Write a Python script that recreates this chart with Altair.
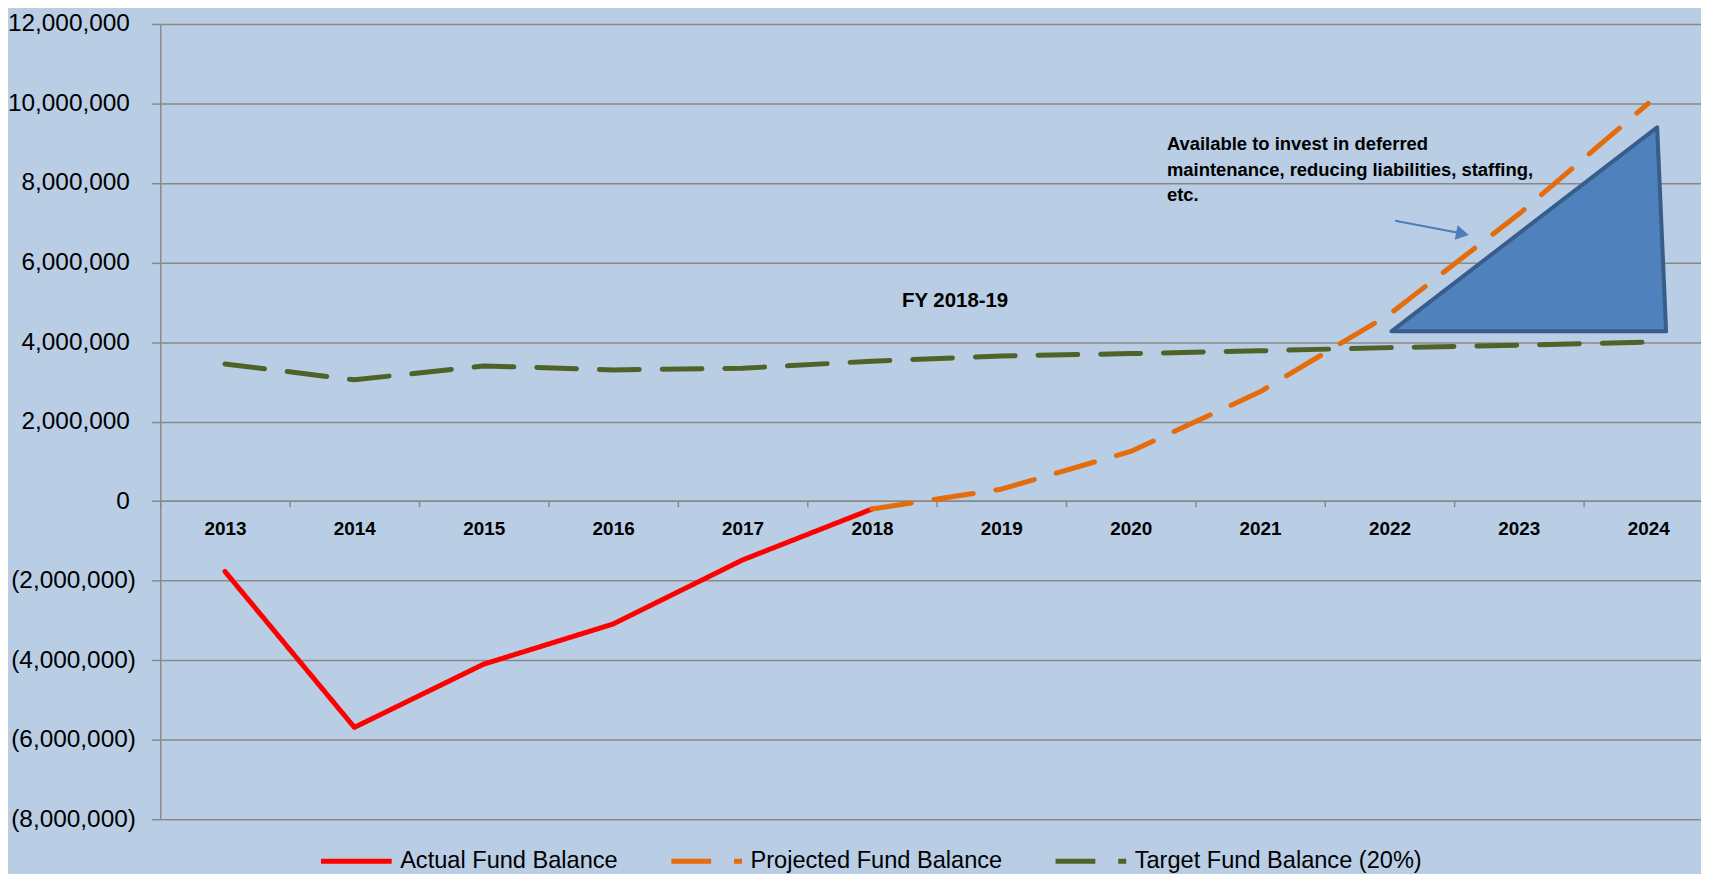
import altair as alt
import pandas as pd

# ---------------- data ----------------
years = [str(y) for y in range(2013, 2025)]

actual_years = years[:6]
actual_vals = [-1770000, -5690000, -4100000, -3090000, -1480000, -200000]

proj_years = years[5:]
proj_vals = [-200000, 300000, 1250000, 2750000, 4700000, 7220000, 10000000]

target_years = years
target_vals = [3450000, 3050000, 3400000, 3300000, 3340000, 3520000,
               3650000, 3710000, 3780000, 3860000, 3920000, 4000000]

series_names = ["Actual Fund Balance", "Projected Fund Balance", "Target Fund Balance (20%)"]
series_colors = ["#FF0000", "#E46C0A", "#4F6228"]
series_dash = [[1, 0], [40, 23], [40, 23]]

y_ticks = [-8000000, -6000000, -4000000, -2000000, 0, 2000000,
           4000000, 6000000, 8000000, 10000000, 12000000]

# shaded triangle (year units, dollars)
tri_x = [2022.015, 2024.069, 2024.138]
tri_top = [4270000, 9400000, 4270000]
tri_base = [4270000, 4270000, 4270000]

# annotation
note_lines = ["Available to invest in deferred",
              "maintenance, reducing liabilities, staffing,",
              "etc."]
note_x = [2020.28, 2020.28, 2020.28]
note_y = [8970000, 8330000, 7690000]

fy_text = ["FY 2018-19"]
fy_x = [2018.643]
fy_y = [5030000]

arrow_x = [2022.044]
arrow_x2 = [2022.531]
arrow_y = [7053000]
arrow_y2 = [6748000]
head_x = [2022.564]
head_y = [6723000]

# ---------------- tables ----------------
rows = []
for y, v in zip(actual_years, actual_vals):
    rows.append({"series": series_names[0], "year": y, "value": v})
for y, v in zip(proj_years, proj_vals):
    rows.append({"series": series_names[1], "year": y, "value": v})
for y, v in zip(target_years, target_vals):
    rows.append({"series": series_names[2], "year": y, "value": v})
lines_df = pd.DataFrame(rows)

tri_df = pd.DataFrame({"x": tri_x, "top": tri_top, "base": tri_base})
note_df = pd.DataFrame({"x": note_x, "y": note_y, "t": note_lines})
fy_df = pd.DataFrame({"x": fy_x, "y": fy_y, "t": fy_text})
arrow_df = pd.DataFrame({"x": arrow_x, "x2": arrow_x2, "y": arrow_y, "y2": arrow_y2})
head_df = pd.DataFrame({"x": head_x, "y": head_y})

FONT = "Liberation Sans"
GRID = "#898989"

yscale = alt.Scale(domain=[-8000000, 12000000], nice=False, zero=False)
qx_scale = alt.Scale(domain=[2012.5, 2024.5], nice=False, zero=False)

label_expr = "datum.value < 0 ? '(' + format(-datum.value, ',') + ')' : format(datum.value, ',')"

legend = alt.Legend(
    title=None, orient="none", legendX=159, legendY=803,
    direction="horizontal", columns=3,
    symbolType="stroke", symbolSize=5041, symbolStrokeWidth=5,
    labelFontSize=23.7, labelFont=FONT, labelColor="black",
    columnPadding=43, labelOffset=6, labelLimit=400,
)

lines = alt.Chart(lines_df).mark_line(strokeWidth=5, strokeCap="round", strokeJoin="round").encode(
    x=alt.X("year:O",
            scale=alt.Scale(type="band", domain=years, paddingInner=0, paddingOuter=0),
            axis=alt.Axis(title=None, offset=-320, tickBand="extent", labelAngle=0,
                          labelFont=FONT, labelFontWeight="bold", labelFontSize=19,
                          labelColor="black", labelPadding=13, tickSize=6,
                          domainColor=GRID, tickColor=GRID, domainWidth=1.5, tickWidth=1.5,
                          grid=False)),
    y=alt.Y("value:Q", scale=yscale,
            axis=alt.Axis(values=y_ticks, title=None, labelExpr=label_expr,
                          labelFont=FONT, labelFontSize=24.5, labelColor="black",
                          tickSize=9,
                          labelPadding={"condition": {"test": "datum.value < 0", "value": 16},
                                        "value": 22},
                          grid=True, gridColor=GRID,
                          gridWidth=1.5, domainColor=GRID, domainWidth=1.5,
                          tickColor=GRID, tickWidth=1.5)),
    color=alt.Color("series:N", scale=alt.Scale(domain=series_names, range=series_colors), legend=legend),
    strokeDash=alt.StrokeDash("series:N", scale=alt.Scale(domain=series_names, range=series_dash), legend=legend),
    order=alt.Order("year:O"),
)

tri = alt.Chart(tri_df).mark_area(color="#4F81BD", opacity=1, stroke="#385D8A",
                                   strokeWidth=4, strokeJoin="round").encode(
    x=alt.X("x:Q", scale=qx_scale, axis=None),
    y=alt.Y("top:Q", scale=yscale),
    y2="base:Q",
)

arrow = alt.Chart(arrow_df).mark_rule(color="#4A7EBB", strokeWidth=2).encode(
    x=alt.X("x:Q", scale=qx_scale, axis=None),
    x2="x2:Q",
    y=alt.Y("y:Q", scale=yscale),
    y2="y2:Q",
)

head = alt.Chart(head_df).mark_point(shape="triangle-right", filled=True, size=220,
                                     angle=11, color="#4A7EBB", opacity=1).encode(
    x=alt.X("x:Q", scale=qx_scale, axis=None),
    y=alt.Y("y:Q", scale=yscale),
)

note = alt.Chart(note_df).mark_text(align="left", baseline="middle", font=FONT,
                                    fontWeight="bold", fontSize=18.5, color="black").encode(
    x=alt.X("x:Q", scale=qx_scale, axis=None),
    y=alt.Y("y:Q", scale=yscale),
    text="t:N",
)

fy = alt.Chart(fy_df).mark_text(align="center", baseline="middle", font=FONT,
                                fontWeight="bold", fontSize=20.5, color="black").encode(
    x=alt.X("x:Q", scale=qx_scale, axis=None),
    y=alt.Y("y:Q", scale=yscale),
    text="t:N",
)

chart = alt.layer(lines, tri, arrow, head, note, fy).resolve_scale(
    x="independent"
).properties(
    width=1560, height=799,
    background="#B9CDE5",
    padding={"left": 153, "top": 14, "right": -12, "bottom": 53},
    autosize=alt.AutoSizeParams(type="none"),
).configure_view(stroke=None).configure(font=FONT)

chart.save("out.html", embed_options={"renderer": "svg", "actions": False})
